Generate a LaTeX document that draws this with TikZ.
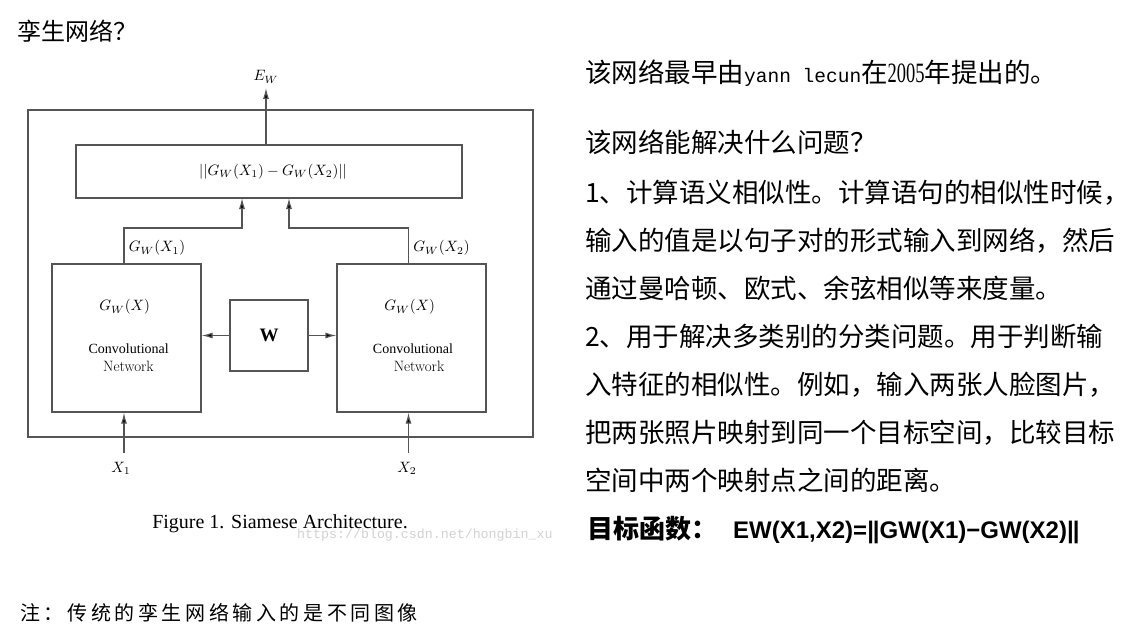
\documentclass[tikz,border=0pt]{standalone}
\usepackage{fontspec}
\usetikzlibrary{arrows.meta}
\newfontfamily\cjk{Noto Sans CJK SC}
\newfontfamily\tms{Liberation Serif}
\newfontfamily\mono{Liberation Mono}
\newfontfamily\arialf{Liberation Sans}
\newfontfamily\narrowdig{Liberation Serif}[FakeStretch=0.66]
\newcommand\pc[1]{\makebox[23.6pt][l]{#1}}
\newcommand\mymath[1]{\scalebox{1.5}{$#1$}}
\definecolor{linegray}{HTML}{555555}
\definecolor{wmgray}{HTML}{D2D2D2}
\tikzset{
  box/.style={draw=linegray, line width=1.2pt, inner sep=0pt},
  arr/.style={draw=linegray, line width=1.2pt, -{Latex[length=11pt,width=6pt,fill=black]}},
  mathlbl/.style={inner sep=0pt},
  rtext/.style={anchor=base west, inner sep=0pt, font=\cjk\fontsize{26.5}{30}\selectfont},
}
\begin{document}
\begin{tikzpicture}[x=1pt,y=-1pt]
\useasboundingbox[fill=white] (0,0) rectangle (1147,639);
% title
\node[anchor=base west, inner sep=0pt, font=\cjk\fontsize{24}{28}\selectfont] (title) at (17,41) {孪生网络？};
% diagram boxes
\node[box, minimum width=505pt, minimum height=327pt] (outer) at (280.5,273.5) {};
\node[box, minimum width=386pt, minimum height=53pt] (top) at (269,171.5) {};
\node[mathlbl] (dist) at (273,171.5) {\mymath{||G_W(X_1) - G_W(X_2)||}};
\node[box, minimum width=149pt, minimum height=148pt] (left) at (126.5,338) {};
\node[box, minimum width=149pt, minimum height=148pt] (right) at (411.5,338) {};
\node[box, minimum width=78pt, minimum height=71pt] (w) at (269,335.5) {};
\node[inner sep=0pt, font=\tms\bfseries\fontsize{19}{22}\selectfont] (wlbl) at (269,335.5) {W};
% texts inside networks
\node[mathlbl] (gl) at (124.7,307) {\mymath{G_W(X)}};
\node[inner sep=0pt, font=\tms\fontsize{14}{16}\selectfont] (convl) at (128.7,349) {Convolutional};
\node[inner sep=0pt, font=\fontsize{15}{18}\selectfont] (netl) at (128.5,366) {Network};
\node[mathlbl] (gr) at (409.7,307) {\mymath{G_W(X)}};
\node[inner sep=0pt, font=\tms\fontsize{14}{16}\selectfont] (convr) at (413,349) {Convolutional};
\node[inner sep=0pt, font=\fontsize{15}{18}\selectfont] (netr) at (419,366) {Network};
% output labels
\node[mathlbl] (gx1) at (157,248) {\mymath{G_W(X_1)}};
\node[mathlbl] (gx2) at (441.5,248) {\mymath{G_W(X_2)}};
\node[mathlbl] (ew) at (266,77) {\mymath{E_W}};
\coordinate (ewtip) at (266,88);
\node[mathlbl] (x1) at (121,468) {\mymath{X_1}};
\node[mathlbl] (x2) at (407,468) {\mymath{X_2}};
\coordinate (x1s) at (124,453);
\coordinate (x2s) at (408.5,453);
% connectors
\draw[arr] (top.north -| ew) -- (ewtip);
\draw[arr] (left.north -| x1s) |- (242,228) -- (242,198);
\draw[arr] (right.north -| x2s) |- (289,228) -- (289,198);
\draw[arr] (w.west) -- (left.east |- w.west);
\draw[arr] (w.east) -- (right.west |- w.east);
\draw[arr] (x1s) -- (left.south -| x1s);
\draw[arr] (x2s) -- (right.south -| x2s);
% caption
\node[anchor=base, inner sep=0pt, font=\tms\fontsize{20}{23}\selectfont] (cap) at (280,528) {Figure 1. Siamese Architecture.};
\node[anchor=west, inner sep=0pt, text=wmgray, font=\mono\fontsize{13.3}{15}\selectfont] (wm) at (297,535) {https://blog.csdn.net/hongbin\_xu};
% right text
\node[rtext] (l1) at (585,83) {该网络最早由{\mono\fontsize{19.5}{26}\selectfont yann lecun}在{\narrowdig\fontsize{28}{30}\selectfont 2005}年提出的。};
\node[rtext] (l2) at (585,153) {该网络能解决什么问题？};
\node[rtext] (l3) at (585,202) {1、计算语义相似性。计算语句的相似性时候，};
\node[rtext] (l4) at (585,250) {输入的值是以句子对的形式输入到网络，然后};
\node[rtext] (l5) at (585,298) {通过曼哈顿、欧式、余弦相似等来度量。};
\node[rtext] (l6) at (585,346) {2、用于解决多类别的分类问题。用于判断输};
\node[rtext] (l7) at (585,394) {入特征的相似性。例如，输入两张人脸图片，};
\node[rtext] (l8) at (585,442) {把两张照片映射到同一个目标空间，比较目标};
\node[rtext] (l9) at (585,490) {空间中两个映射点之间的距离。};
\node[rtext, font=\cjk\bfseries\fontsize{26}{30}\selectfont] (l10) at (587,538) {目标函数：};
\node[anchor=base west, inner sep=0pt, font=\arialf\bfseries\fontsize{24}{28}\selectfont] (obj) at (733,538) {EW(X1,X2)=\textbar\kern-1pt\textbar GW(X1)−GW(X2)\textbar\kern-1pt\textbar};
% note
\node[anchor=base west, inner sep=0pt, font=\cjk\fontsize{20}{24}\selectfont] (note) at (20,620) {\pc{注}\pc{：}\pc{传}\pc{统}\pc{的}\pc{孪}\pc{生}\pc{网}\pc{络}\pc{输}\pc{入}\pc{的}\pc{是}\pc{不}\pc{同}\pc{图}\pc{像}};
\end{tikzpicture}
\end{document}
